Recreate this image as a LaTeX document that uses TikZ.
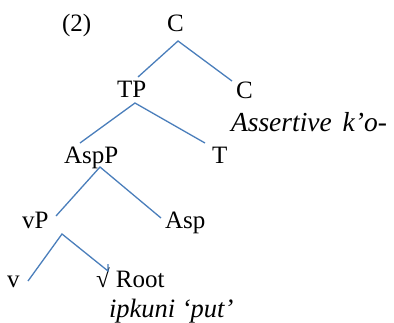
\documentclass[tikz,border=0pt]{standalone}
\usepackage{fontspec}
\setmainfont{Liberation Serif}
\definecolor{branch}{HTML}{4A7EBB}
\begin{document}
\begin{tikzpicture}[x=1pt,y=-1pt,
  lab/.style={anchor=base west,inner sep=0pt,outer sep=0pt,font=\fontsize{25}{30}\selectfont},
  gloss/.style={anchor=base west,inner sep=0pt,outer sep=0pt,font=\fontsize{#1}{30}\selectfont\itshape},
  branchline/.style={draw=branch,line width=1.3pt}]
\useasboundingbox (0,0) rectangle (394,322);
% labels
\node[lab] (num) at (62,31) {(2)};
\node[lab] (c1) at (167,31) {C};
\node[lab] (tp) at (117,97) {TP};
\node[lab] (c2) at (236,98) {C};
\node[gloss=27.5] (assert) at (231,131) {Assertive\hspace{4pt} k’o-};
\node[lab] (aspp) at (64,163) {AspP};
\node[lab] (t) at (212,163) {T};
\node[lab] (vp) at (22,228) {vP};
\node[lab] (asp) at (165,228) {Asp};
\node[lab] (v) at (7,287) {v};
\node[lab] (root) at (96,287) {√ Root};
\node[gloss=26.5] (ipk) at (109,317) {ipkuni ‘put’};
% branch points
\coordinate (cTop) at (178,41);
\coordinate (tpTop) at (135,103);
\coordinate (aspTop) at (100,167);
\coordinate (vpTop) at (62,234);
% branch ends
\coordinate (tpEnd) at (138,77);
\coordinate (c2End) at (232,81);
\coordinate (asppEnd) at (80,143);
\coordinate (tEnd) at (205,143);
\coordinate (vpEnd) at (56,216);
\coordinate (aspEnd) at (161,218);
\coordinate (vEnd) at (28,281);
\coordinate (rootEnd) at (108,271);
\coordinate (rootTick) at (108,264);
% branches
\draw[branchline] (tpEnd) -- (cTop) -- (c2End);
\draw[branchline] (asppEnd) -- (tpTop) -- (tEnd);
\draw[branchline] (vpEnd) -- (aspTop) -- (aspEnd);
\draw[branchline] (vEnd) -- (vpTop) -- (rootEnd) -- (rootTick);
\end{tikzpicture}
\end{document}
